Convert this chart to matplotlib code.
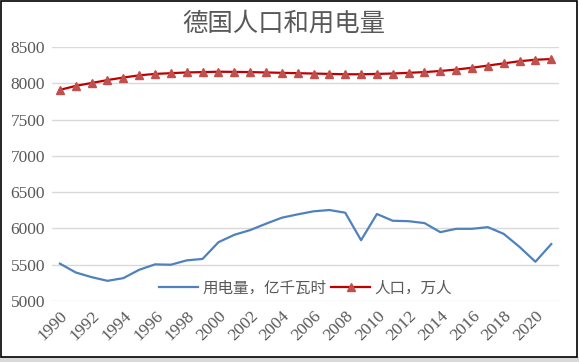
import matplotlib.pyplot as plt
import numpy as np
from matplotlib.patches import Rectangle

years = list(range(1990, 2022))
power = [5515, 5393, 5329, 5278, 5315, 5430, 5505, 5500, 5560, 5580,
         5810, 5912, 5977, 6065, 6148, 6194, 6236, 6254, 6217, 5838,
         6199, 6106, 6100, 6074, 5949, 5995, 5995, 6018, 5925, 5745,
         5541, 5785]
population = [7910, 7965, 8005, 8045, 8080, 8110, 8130, 8140, 8150, 8155,
              8160, 8158, 8155, 8150, 8145, 8140, 8135, 8130, 8125, 8125,
              8130, 8135, 8145, 8155, 8170, 8190, 8215, 8245, 8275, 8305,
              8325, 8335]

plt.rcParams['font.family'] = ['Noto Sans CJK SC', 'DejaVu Sans']
plt.rcParams['font.serif'] = ['Liberation Serif', 'DejaVu Serif']
grey = '#595959'

fig = plt.figure(figsize=(5.79, 3.62), dpi=100)
ax = fig.add_axes([0.0898, 0.1685, 0.876, 0.7015])

x = np.arange(len(years))
ax.plot(x, power, color='#4F81BD', lw=1.6, label='用电量，亿千瓦时')
ax.plot(x, population, color='#C00000', lw=1.6, marker='^', ms=5.5,
        markerfacecolor='#C0504D', markeredgecolor='#C0504D',
        label='人口，万人')

ax.set_xlim(-0.5, len(years) - 0.5)
ax.set_ylim(5000, 8500)
ax.set_yticks(range(5000, 8501, 500))
ax.grid(axis='y', color='#d9d9d9', lw=1)
ax.set_axisbelow(True)
for s in ax.spines.values():
    s.set_visible(False)
ax.tick_params(length=0, colors=grey, labelsize=12.5, pad=5)
ax.set_xticks(x[::2])
ax.set_xticklabels([str(y) for y in years[::2]], rotation=45, ha='right',
                   rotation_mode='anchor')
for t in ax.get_xticklabels() + ax.get_yticklabels():
    t.set_fontfamily('serif')

leg = ax.legend(loc='center', bbox_to_anchor=(0.5, 0.0505), ncol=2, frameon=False,
                fontsize=11.2, handlelength=2.5, handletextpad=0.3, columnspacing=0.3)
for t in leg.get_texts():
    t.set_color(grey)

fig.text(0.49, 0.935, '德国人口和用电量', ha='center', va='center',
         fontsize=18.3, color=grey)

fig.patches.append(Rectangle((0, 0), 1, 5 / 362, transform=fig.transFigure,
                             facecolor='#d9d9d9', edgecolor='none'))
fig.patches.append(Rectangle((1 / 579, 5 / 362), 576 / 579, 356 / 362,
                             transform=fig.transFigure, facecolor='none',
                             edgecolor='black', lw=1.2))

fig.savefig('out.png', dpi=100)
